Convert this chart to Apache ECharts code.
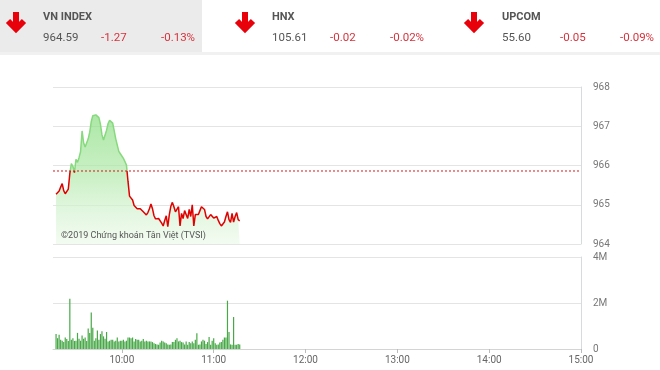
<!DOCTYPE html>
<html>
<head>
<meta charset="utf-8">
<script src="https://cdn.jsdelivr.net/npm/echarts@6/dist/echarts.min.js"></script>
<style>
html,body{margin:0;padding:0;background:#fff;}
#chart{width:660px;height:370px;}
</style>
</head>
<body>
<div id="chart"></div>
<script>
// ---- Header data ----
const indexNames = ['VN INDEX', 'HNX', 'UPCOM'];
const indexValues = ['964.59', '105.61', '55.60'];
const indexChanges = ['-1.27', '-0.02', '-0.05'];
const indexPct = ['-0.13%', '-0.02%', '-0.09%'];

// ---- Intraday data (one point per minute from startTime) ----
const startTime = '09:17';
const referencePrice = 965.86;
const prices = [
  965.27, 965.30, 965.35, 965.45, 965.54, 965.36, 965.28, 965.25, 965.40, 965.80,
  966.05, 965.98, 965.82, 966.16, 966.08, 966.20, 966.35, 966.88, 966.58, 966.47,
  966.48, 966.68, 966.85, 967.12, 967.27, 967.31, 967.29, 967.26, 967.22, 967.05,
  966.78, 966.65, 966.63, 966.90, 967.07, 967.15, 967.15, 967.08, 966.88, 966.68,
  966.52, 966.36, 966.30, 966.25, 966.18, 966.10, 966.01, 965.60, 965.22, 965.20,
  965.12, 964.98, 964.95, 964.90, 964.92, 964.90, 964.85, 964.82, 964.78, 964.74,
  964.80, 964.90, 965.02, 964.90, 964.72, 964.64, 964.62, 964.65, 964.60, 964.53,
  964.46, 964.60, 964.72, 964.44, 964.75, 964.96, 965.06, 964.95, 964.82, 964.78,
  964.95, 964.46, 964.78, 964.65, 964.85, 964.80, 964.65, 964.88, 964.70, 965.00,
  964.46, 964.75, 964.80, 964.75, 964.85, 964.95, 964.92, 964.88, 964.70, 964.64,
  964.62, 964.75, 964.74, 964.66, 964.68, 964.70, 964.60, 964.52, 964.46, 964.48,
  964.56, 964.70, 964.82, 964.62, 964.55, 964.78, 964.56, 964.70, 964.80, 964.62,
  964.59
];
// volume in millions of shares
const volumes = [
  0.65, 0.47, 0.62, 0.40, 0.36, 0.30, 0.50, 0.44, 0.35, 2.18,
  0.40, 0.47, 0.35, 0.36, 0.70, 0.45, 0.36, 0.59, 0.45, 0.50,
  0.35, 0.89, 0.70, 1.59, 0.92, 0.36, 0.47, 0.80, 0.40, 0.65,
  0.77, 0.55, 0.45, 0.74, 0.33, 0.36, 0.40, 0.40, 0.33, 0.36,
  0.50, 0.33, 0.36, 0.36, 0.40, 0.33, 0.36, 0.50, 0.50, 0.47,
  0.50, 0.33, 0.44, 0.40, 0.40, 0.33, 0.36, 0.44, 0.33, 0.36,
  0.33, 0.33, 0.33, 0.30, 0.25, 0.22, 0.20, 0.18, 0.28, 0.36,
  0.33, 0.28, 0.25, 0.20, 0.18, 0.20, 0.30, 0.30, 0.40, 0.47,
  0.33, 0.36, 0.30, 0.28, 0.20, 0.33, 0.18, 0.30, 0.25, 0.33,
  0.25, 0.40, 0.68, 0.18, 0.20, 0.33, 0.40, 0.36, 0.22, 0.30,
  0.52, 0.18, 0.36, 0.47, 0.25, 0.18, 0.20, 0.28, 0.30, 0.40,
  0.50, 0.50, 2.10, 0.74, 0.20, 0.18, 1.39, 0.18, 0.18, 0.22,
  0.20
];

// ---- Axis setup ----
const axisStart = '09:15';
const axisEnd = '15:00';
const timeTicks = ['10:00', '11:00', '12:00', '13:00', '14:00', '15:00'];
const priceTicks = [964, 965, 966, 967, 968];
const volumeTicks = [0, 2, 4];

function toMin(s) { const p = s.split(':'); return (+p[0]) * 60 + (+p[1]); }
function fmtMin(m) { const h = Math.floor(m / 60), mm = m % 60; return h + ':' + (mm < 10 ? '0' : '') + mm; }

const t0 = toMin(startTime);
const priceData = prices.map((v, i) => [t0 + i, v]);
const volumeData = volumes.map((v, i) => [t0 + i, v]);
const referenceData = [[toMin(axisStart), referencePrice], [toMin(axisEnd), referencePrice]];
const tickMins = timeTicks.map(toMin);
const pMin = priceTicks[0], pMax = priceTicks[priceTicks.length - 1];

// ---- Header graphics ----
const red = '#e8000b';
const panelX = [43, 272, 502];
const arrowX = [16, 245, 474];
const graphics = [
  { type: 'rect', shape: { x: 0, y: 0, width: 202, height: 52 }, style: { fill: '#ebebeb' }, z: 0 },
  { type: 'rect', shape: { x: 0, y: 52, width: 660, height: 3 }, style: { fill: '#f1f1f1' }, z: 0 }
];
indexNames.forEach((name, k) => {
  const cx = arrowX[k];
  graphics.push({ type: 'polyline', shape: { points: [[cx, 12], [cx, 30]] }, style: { stroke: red, lineWidth: 6, fill: null }, z: 5 });
  graphics.push({ type: 'polyline', shape: { points: [[cx - 8, 21], [cx, 29], [cx + 8, 21]] }, style: { stroke: red, lineWidth: 6, fill: null, lineJoin: 'miter' }, z: 5 });
  const x = panelX[k];
  graphics.push({ type: 'text', x: x, y: 17, style: { text: name, fill: '#555', font: 'bold 11px Roboto', verticalAlign: 'middle' }, z: 5 });
  graphics.push({ type: 'text', x: x, y: 38, style: { text: indexValues[k], fill: '#555', font: '11.5px Roboto', verticalAlign: 'middle' }, z: 5 });
  graphics.push({ type: 'text', x: x + 58, y: 38, style: { text: indexChanges[k], fill: '#d8323c', font: '11.5px Roboto', verticalAlign: 'middle' }, z: 5 });
  graphics.push({ type: 'text', x: x + 118, y: 38, style: { text: indexPct[k], fill: '#d8323c', font: '11.5px Roboto', verticalAlign: 'middle' }, z: 5 });
});
graphics.push({ type: 'text', x: 61, y: 236, style: { text: '©2019 Chứng khoán Tân Việt (TVSI)', fill: '#555', font: '9px Roboto', verticalAlign: 'middle' }, z: 10 });

const gridLine = { show: true, lineStyle: { color: '#e4e4e4', width: 1 } };
const axisLabelStyle = { color: '#777', fontSize: 10, fontFamily: 'Roboto' };

const chart = echarts.init(document.getElementById('chart'), null, { renderer: 'canvas' });
chart.setOption({
  animation: false,
  backgroundColor: '#fff',
  graphic: graphics,
  grid: [
    { left: 53, right: 79, top: 87, height: 157 },
    { left: 53, right: 79, top: 257, height: 92 }
  ],
  xAxis: [
    { type: 'value', gridIndex: 0, min: toMin(axisStart), max: toMin(axisEnd),
      axisLine: { show: false }, axisTick: { show: false }, axisLabel: { show: false }, splitLine: { show: false } },
    { type: 'value', gridIndex: 1, min: toMin(axisStart), max: toMin(axisEnd),
      axisLine: { show: true, onZero: false, lineStyle: { color: '#d4d4d4' } },
      axisTick: { show: true, length: 4, lineStyle: { color: '#bbb' }, customValues: tickMins },
      axisLabel: { ...axisLabelStyle, color: '#666', margin: 6, customValues: tickMins, formatter: v => fmtMin(v) },
      splitLine: { show: false } }
  ],
  yAxis: [
    { type: 'value', gridIndex: 0, position: 'right', min: pMin, max: pMax, interval: 1,
      axisLine: { show: true, lineStyle: { color: '#d6dbe0' } }, axisTick: { show: false },
      axisLabel: { ...axisLabelStyle, margin: 12 }, splitLine: gridLine },
    { type: 'value', gridIndex: 1, position: 'right', min: volumeTicks[0], max: volumeTicks[volumeTicks.length - 1], interval: 2,
      axisLine: { show: true, lineStyle: { color: '#d6dbe0' } }, axisTick: { show: false },
      axisLabel: { ...axisLabelStyle, margin: 12, formatter: v => v === 0 ? '0' : v + 'M' }, splitLine: gridLine }
  ],
  visualMap: {
    show: false, type: 'piecewise', seriesIndex: 0, dimension: 1,
    pieces: [
      { gt: referencePrice, lte: pMax, color: '#86d97d' },
      { gte: pMin, lte: referencePrice, color: '#e00000' }
    ],
    outOfRange: { color: '#e00000' }
  },
  series: [
    {
      type: 'line', xAxisIndex: 0, yAxisIndex: 0, data: priceData, showSymbol: false, symbol: 'none', z: 3,
      lineStyle: { width: 1.5 },
      areaStyle: {
        color: new echarts.graphic.LinearGradient(0, 0, 0, 1, [
          { offset: 0, color: '#88dd80' },
          { offset: 0.45, color: '#b2e9aa' },
          { offset: 0.75, color: '#d6f3d2' },
          { offset: 1, color: '#eefaec' }
        ])
      }
    },
    {
      type: 'bar', xAxisIndex: 1, yAxisIndex: 1, data: volumeData, barWidth: 1.2,
      itemStyle: { color: '#48a848' }
    },
    {
      type: 'line', xAxisIndex: 0, yAxisIndex: 0, data: referenceData, symbol: 'none', silent: true, z: 4,
      color: '#d0191f',
      lineStyle: { color: '#d0191f', type: [2, 2], width: 1 }
    }
  ]
});
</script>
</body>
</html>
